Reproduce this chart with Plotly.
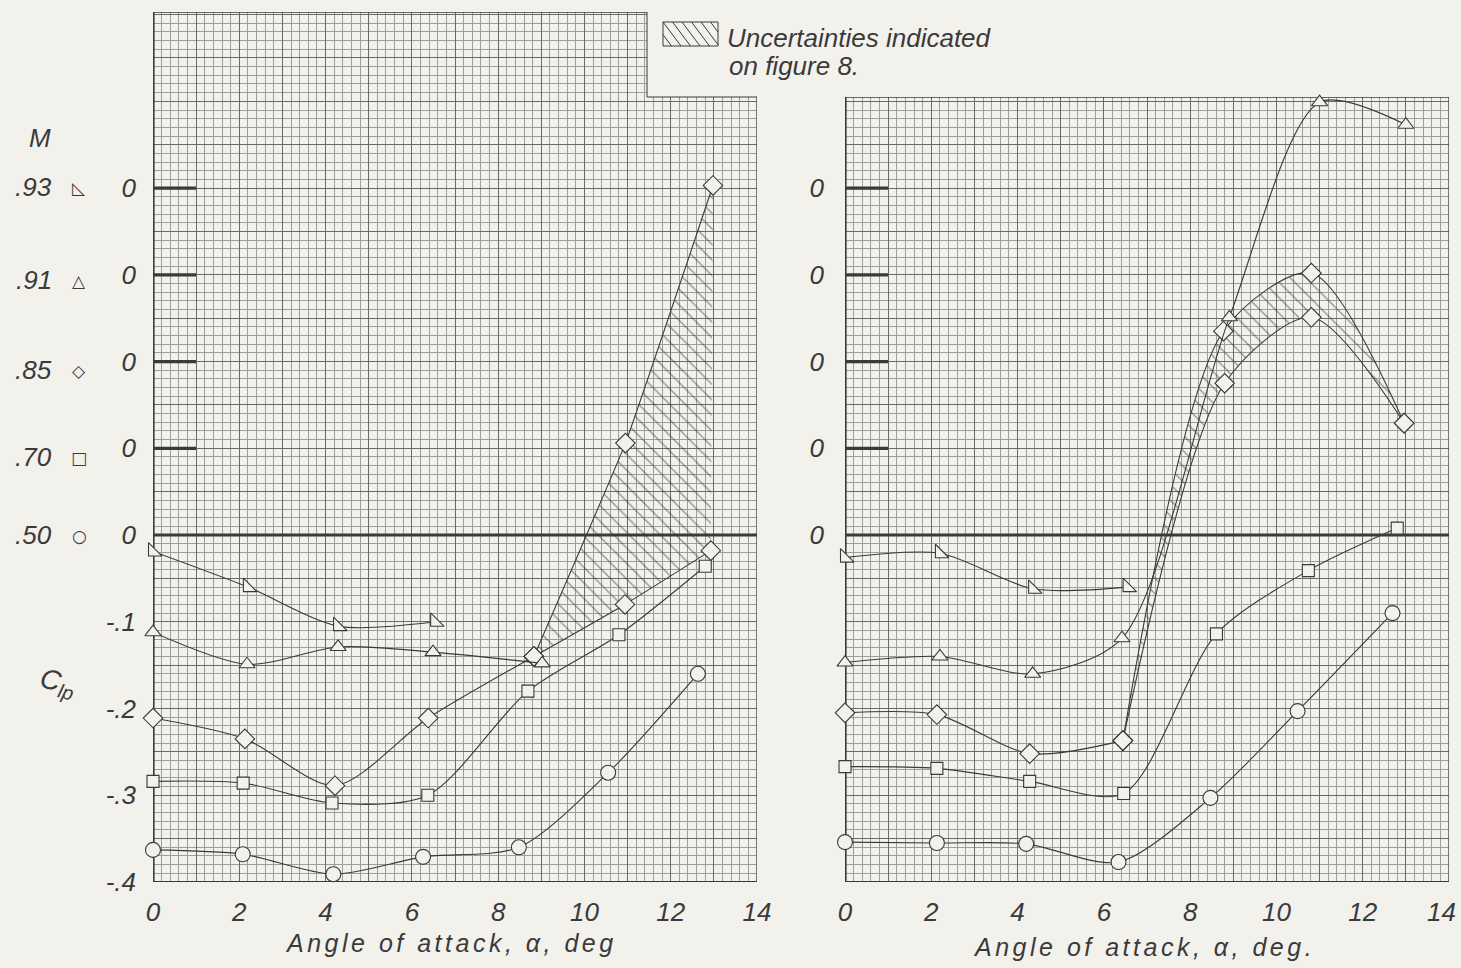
import numpy as np
import plotly.graph_objects as go

W, H = 1461, 968
PAPER = "#f3f1ec"
INK = "#3a3a3a"
GRID_MINOR = "#9f9d99"
GRID_MAJOR = "#6c6a67"
FONT = "Liberation Sans"

# ---------------- data ----------------
mach_labels = [".93", ".91", ".85", ".70", ".50"]
mach_glyphs = ["\u25FA", "\u25B3", "\u25C7", "\u25A1", "\u25CB"]
mach_symbols = ["triangle-sw", "triangle-up", "diamond", "square", "circle"]
mach_sizes = [15, 14, 15, 12, 15]
mach_offsets = [0.4, 0.3, 0.2, 0.1, 0.0]

# Left panel (alpha, deg ; C_lp)
L_a50 = [0, 2.08, 4.18, 6.26, 8.48, 10.55, 12.63]
L_c50 = [-0.363, -0.368, -0.391, -0.371, -0.360, -0.274, -0.160]
L_a70 = [0, 2.09, 4.15, 6.37, 8.69, 10.80, 12.80]
L_c70 = [-0.384, -0.386, -0.409, -0.400, -0.280, -0.215, -0.136]
L_a85 = [0, 2.13, 4.22, 6.38, 8.83, 10.94, 12.93]
L_c85 = [-0.411, -0.435, -0.489, -0.411, -0.340, -0.280, -0.218]
L_a85u = [8.83, 10.95, 12.98]
L_c85u = [-0.340, -0.094, 0.203]
L_a91 = [0, 2.18, 4.29, 6.49, 9.02]
L_c91 = [-0.412, -0.449, -0.429, -0.435, -0.448]
L_a93 = [0, 2.20, 4.29, 6.54]
L_c93 = [-0.419, -0.460, -0.505, -0.500]

# Right panel
R_a50 = [0, 2.13, 4.20, 6.34, 8.47, 10.49, 12.69]
R_c50 = [-0.354, -0.355, -0.356, -0.377, -0.303, -0.203, -0.090]
R_a70 = [0, 2.13, 4.28, 6.46, 8.61, 10.74, 12.80]
R_c70 = [-0.367, -0.369, -0.384, -0.398, -0.214, -0.141, -0.092]
R_a85 = [0, 2.13, 4.28, 6.44, 8.80, 10.81, 12.96]
R_c85 = [-0.405, -0.407, -0.452, -0.437, -0.025, 0.051, -0.071]
R_a85u = [6.44, 8.77, 10.81, 12.96]
R_c85u = [-0.437, 0.035, 0.102, -0.071]
R_a91 = [0, 2.20, 4.35, 6.42, 8.91, 11.00, 13.00]
R_c91 = [-0.447, -0.440, -0.460, -0.419, -0.049, 0.199, 0.173]
R_a93 = [0, 2.20, 4.36, 6.55]
R_c93 = [-0.426, -0.421, -0.462, -0.460]

x_tick_vals = list(range(0, 15))
x_tick_text = [str(v) if v % 2 == 0 else "" for v in x_tick_vals]
y_label_vals = [0.4, 0.3, 0.2, 0.1, 0.0, -0.1, -0.2, -0.3, -0.4]
y_label_left = ["0", "0", "0", "0", "0", "-.1", "-.2", "-.3", "-.4"]
y_label_right = ["0", "0", "0", "0", "0", "", "", "", ""]

# ---------------- figure ----------------
fig = go.Figure()


def style(i):
    return dict(symbol=mach_symbols[i], size=mach_sizes[i], color=PAPER,
                line=dict(color=INK, width=1.1))


def add(a, c, i, xa, ya, fill=None, smooth=0.8):
    off = mach_offsets[i]
    yv = [v + off for v in c]
    tr = go.Scatter(
        x=a, y=yv, xaxis=xa, yaxis=ya,
        mode="lines+markers",
        line=dict(color=INK, width=1.1, shape="spline", smoothing=smooth),
        marker=style(i), cliponaxis=False, showlegend=False,
        hoverinfo="skip",
    )
    if fill:
        tr.update(fill="tonexty", fillcolor="rgba(0,0,0,0)",
                  fillpattern=dict(shape="\\", size=11, solidity=0.12,
                                   fgcolor="#2e2e2e", bgcolor="rgba(0,0,0,0)"))
    fig.add_trace(tr)


def split(a, c, k):
    return (a[:k + 1], c[:k + 1]), (a[k:], c[k:])

# left panel
add(L_a50, L_c50, 4, "x", "y")
add(L_a70, L_c70, 3, "x", "y")
(la, lc), (lb, lcb) = split(L_a85, L_c85, 4)
add(la, lc, 2, "x", "y")
add(lb, lcb, 2, "x", "y", smooth=0.3)
add(L_a85u, L_c85u, 2, "x", "y", fill=True, smooth=0.3)
add(L_a91, L_c91, 1, "x", "y")
add(L_a93, L_c93, 0, "x", "y")

# right panel
add(R_a50, R_c50, 4, "x2", "y2")
add(R_a70, R_c70, 3, "x2", "y2")
(ra, rc), (rb, rcb) = split(R_a85, R_c85, 3)
add(ra, rc, 2, "x2", "y2")
add(rb, rcb, 2, "x2", "y2")
add(R_a85u, R_c85u, 2, "x2", "y2", fill=True)
add(R_a91, R_c91, 1, "x2", "y2")
add(R_a93, R_c93, 0, "x2", "y2")

# ---------------- axes ----------------
y_ticks = [round(v, 2) for v in np.arange(-0.40, 0.6001, 0.05)]


def ytext(labels):
    m = {round(v, 2): t for v, t in zip(y_label_vals, labels)}
    return [m.get(v, "") for v in y_ticks]


tickfont = dict(family=FONT, size=26, color=INK, style="italic")
common_x = dict(range=[0, 14], tickmode="array", tickvals=x_tick_vals,
                showgrid=True, gridcolor=GRID_MAJOR, gridwidth=1,
                minor=dict(tickmode="linear", tick0=0, dtick=0.2, showgrid=True,
                           gridcolor=GRID_MINOR, gridwidth=1),
                zeroline=False, showline=False, ticks="", tickfont=tickfont,
                ticklabelstandoff=12, ticklabeloverflow="allow",
                fixedrange=True, automargin=False)
common_y = dict(tickmode="array", tickvals=y_ticks,
                showgrid=True, gridcolor=GRID_MAJOR, gridwidth=1,
                minor=dict(tickmode="linear", tick0=0, dtick=0.01, showgrid=True,
                           gridcolor=GRID_MINOR, gridwidth=1),
                zeroline=False, showline=False, ticks="", tickfont=tickfont,
                ticklabeloverflow="allow", fixedrange=True, automargin=False)

# right panel: last label is placed by an annotation so it stays inside the page
x_tick_text_right = x_tick_text[:-1] + [""]

L_TOP = 0.603
R_TOP = 0.505
fig.update_layout(
    width=W, height=H, margin=dict(l=0, r=0, t=0, b=0, pad=0, autoexpand=False),
    paper_bgcolor=PAPER, plot_bgcolor=PAPER, showlegend=False,
    xaxis=dict(domain=[153 / W, 757 / W], anchor="y", ticktext=x_tick_text, **common_x),
    yaxis=dict(domain=[1 - 882 / H, 1 - 12 / H], anchor="x", range=[-0.4, L_TOP],
               ticktext=ytext(y_label_left), ticklabelstandoff=16, **common_y),
    xaxis2=dict(domain=[845 / W, 1449 / W], anchor="y2", ticktext=x_tick_text_right, **common_x),
    yaxis2=dict(domain=[1 - 882 / H, 1 - 97 / H], anchor="x2", range=[-0.4, R_TOP],
                ticktext=ytext(y_label_right), ticklabelstandoff=20, **common_y),
)

# ---------------- shapes ----------------
shapes = []


def seg(xr, yr, x0, y0, x1, y1, w, layer="between", color=INK):
    shapes.append(dict(type="line", xref=xr, yref=yr, x0=x0, y0=y0, x1=x1, y1=y1,
                       line=dict(color=color, width=w), layer=layer))

GAP_X = (647 - 153) / (757 - 153) * 14  # where the legend box interrupts the grid
# cover legend area on left panel
shapes.append(dict(type="rect", xref="x", yref="y", x0=GAP_X, x1=14.3, y0=R_TOP, y1=L_TOP + 0.02,
                   fillcolor=PAPER, line=dict(width=0), layer="above"))

for xr, yr, top in (("x", "y", L_TOP), ("x2", "y2", R_TOP)):
    seg(xr, yr, 0, -0.4, 0, top, 3.2)          # left border
    seg(xr, yr, 0, -0.4, 14, -0.4, 2)           # bottom border
    seg(xr, yr, 0, 0, 14, 0, 3)                 # zero line of M = .50
    for off in mach_offsets[:4]:
        seg(xr, yr, 0, off, 1, off, 3.2)        # short zero marks
seg("x", "y", 14, -0.4, 14, R_TOP, 1.3)
seg("x", "y", 0, L_TOP, GAP_X, L_TOP, 1.3, layer="above")
seg("x", "y", GAP_X, R_TOP, GAP_X, L_TOP, 1.0, layer="above")
seg("x", "y", GAP_X, R_TOP, 14, R_TOP, 1.0, layer="above")
seg("x2", "y2", 14, -0.4, 14, R_TOP, 1.3)
seg("x2", "y2", 0, R_TOP, 14, R_TOP, 1.3)

# legend hatch swatch (pixel box -> paper)
sx0, sy0, sx1, sy1 = 663, 22, 718, 46
shapes.append(dict(type="rect", xref="paper", yref="paper", x0=sx0 / W, x1=sx1 / W,
                   y0=1 - sy1 / H, y1=1 - sy0 / H, line=dict(color=INK, width=1)))
dx = 18.0
for k in range(-2, 7):
    xa_, ya_ = sx0 + k * 9.5, sy0
    xb_, yb_ = xa_ + dx, sy1
    if xa_ < sx0:
        ya_ = sy0 + (sx0 - xa_) / dx * (sy1 - sy0)
        xa_ = sx0
    if xb_ > sx1:
        yb_ = sy0 + (sx1 - (xb_ - dx)) / dx * (sy1 - sy0)
        xb_ = sx1
    if xa_ >= sx1 or ya_ >= sy1 or yb_ <= sy0:
        continue
    shapes.append(dict(type="line", xref="paper", yref="paper", x0=xa_ / W, y0=1 - ya_ / H,
                       x1=xb_ / W, y1=1 - yb_ / H, line=dict(color=INK, width=1)))

fig.update_layout(shapes=shapes)

# ---------------- annotations ----------------
ann = []


def text(x, y, s, size=25, xanchor="left", angle=0, family=FONT, italic=True):
    ann.append(dict(x=x / W, y=1 - y / H, xref="paper", yref="paper", text=s, showarrow=False,
                    xanchor=xanchor, yanchor="middle", textangle=angle,
                    font=dict(family=family, size=size, color=INK,
                              style="italic" if italic else "normal")))

text(40, 138, "M", size=26, xanchor="center")
m_y = [187, 280, 370, 457, 535]
for lab, gl, yy in zip(mach_labels, mach_glyphs, m_y):
    text(54, yy, lab, size=26, xanchor="right")
    text(79, yy + 1, gl, size=17, xanchor="center", family="DejaVu Sans", italic=False)

text(58, 683, "C<sub>l</sub><sub>p</sub>", size=28, xanchor="center", angle=14)
text(725, 38, "Uncertainties indicated", size=26)
text(727, 66, "on figure 8.", size=26)
text(451, 943, '<span style="letter-spacing:3.5px">Angle of attack, \u03b1, deg</span>', size=25,
     xanchor="center")
text(1144, 947, '<span style="letter-spacing:3.5px">Angle of attack, \u03b1, deg.</span>', size=25,
     xanchor="center")

# last tick label of the right panel, kept inside the page
ann.append(dict(x=x_tick_vals[-1], xref="x2", y=1 - 912 / H, yref="paper",
                text=x_tick_text[-1], showarrow=False, xanchor="right", yanchor="middle",
                xshift=9, font=tickfont))
fig.update_layout(annotations=ann)

page_fix = (
    "var gd=document.getElementById('{plot_id}');"
    "var wrap=gd.parentElement;"
    "wrap.style.lineHeight='0';wrap.style.fontSize='0';"
    "wrap.style.height='968px';wrap.style.width='1461px';wrap.style.overflow='hidden';"
    "var de=document.documentElement, b=document.body;"
    "de.style.margin='0';de.style.padding='0';de.style.overflow='hidden';de.style.height='968px';"
    "b.style.margin='0';b.style.padding='0';b.style.overflow='hidden';b.style.height='968px';"
    "b.style.background='" + PAPER + "';de.style.background='" + PAPER + "';"
)

fig.write_html("out.html", config={"displayModeBar": False, "staticPlot": True},
               post_script=page_fix)
